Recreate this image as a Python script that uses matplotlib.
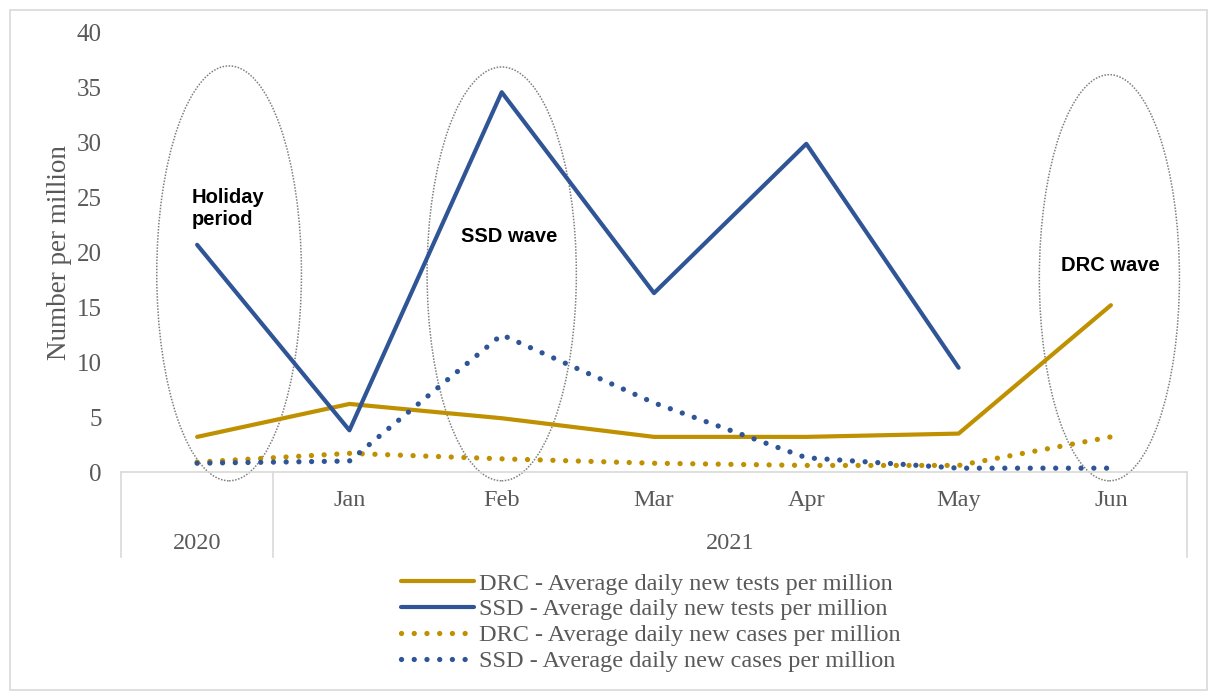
import matplotlib.pyplot as plt
from matplotlib.patches import Ellipse
import matplotlib.transforms as mtransforms

months = ['', 'Jan', 'Feb', 'Mar', 'Apr', 'May', 'Jun']
years = ['2020', '2021']
year_spans = [(0, 0), (1, 6)]

drc_tests = [3.2, 6.2, 4.9, 3.2, 3.2, 3.5, 15.2]
ssd_tests = [20.7, 3.8, 34.6, 16.3, 29.9, 9.5, None]
drc_cases = [0.9, 1.7, 1.2, 0.8, 0.6, 0.6, 3.2]
ssd_cases = [0.8, 1.0, 12.5, 6.3, 1.3, 0.35, 0.35]

labels = ['DRC - Average daily new tests per million',
          'SSD - Average daily new tests per million',
          'DRC - Average daily new cases per million',
          'SSD - Average daily new cases per million']

gold = '#BF9000'
blue = '#2F5597'
grey_txt = '#595959'
grid_grey = '#D9D9D9'

plt.rcParams['font.family'] = ['Liberation Serif', 'DejaVu Serif']

fig = plt.figure(figsize=(12.17, 6.97), dpi=100)
ax = fig.add_axes([0.0994, 0.3228, 0.876, 0.6299])

x = list(range(len(months)))
ssd_x = [i for i, v in zip(x, ssd_tests) if v is not None]
ssd_y = [v for v in ssd_tests if v is not None]

dot = (0, (0.01, 2.4))
h1, = ax.plot(x, drc_tests, color=gold, lw=3, solid_capstyle='round', zorder=3)
h2, = ax.plot(ssd_x, ssd_y, color=blue, lw=3, solid_capstyle='round', zorder=3)
h3, = ax.plot(x, drc_cases, color=gold, lw=3.8, ls=dot, dash_capstyle='round', zorder=3)
h4, = ax.plot(x, ssd_cases, color=blue, lw=3.8, ls=dot, dash_capstyle='round', zorder=3)

ax.set_xlim(-0.5, 6.5)
ax.set_ylim(0, 40)
ax.set_yticks(range(0, 41, 5))
ax.tick_params(axis='y', length=0, labelsize=18, labelcolor=grey_txt, pad=14)
ax.set_xticks([])
for s in ['top', 'right', 'left']:
    ax.spines[s].set_visible(False)
ax.spines['bottom'].set_color(grid_grey)
ax.spines['bottom'].set_linewidth(1.2)
ax.set_ylabel('Number per million', fontsize=19.5, color=grey_txt, labelpad=3)

# multi-level category axis
trans = mtransforms.blended_transform_factory(ax.transData, ax.transAxes)
bottom = -0.194
for xb in [-0.5, 0.5, 6.5]:
    ax.plot([xb, xb], [0, bottom], transform=trans, color=grid_grey, lw=1.2, clip_on=False)
for i, m in enumerate(months):
    ax.text(i, -0.064, m, transform=trans, ha='center', va='center', fontsize=17.5, color=grey_txt)
for yr, (a, b) in zip(years, year_spans):
    ax.text((a + b) / 2, -0.162, yr, transform=trans, ha='center', va='center', fontsize=17.5, color=grey_txt)

# highlight ellipses
ells = [(0.21, 18.1, 0.95, 37.8), (2.0, 18.05, 0.98, 37.7), (5.99, 17.7, 0.92, 37.0)]
for cx, cy, w, h in ells:
    ax.add_patch(Ellipse((cx, cy), w, h, fill=False, ec='#7F7F7F', lw=1.1, ls=(0, (1, 1)),
                         clip_on=False, zorder=2))

ann_font = dict(family=['Liberation Sans'], fontweight='bold', fontsize=14.5, color='black')
ax.text(-0.035, 24.0, 'Holiday\nperiod', ha='left', va='center', linespacing=1.2, **ann_font)
ax.text(1.73, 21.5, 'SSD wave', ha='left', va='center', **ann_font)
ax.text(5.67, 18.8, 'DRC wave', ha='left', va='center', **ann_font)

fig.legend([h1, h2, h3, h4], labels, loc='upper center', bbox_to_anchor=(0.535, 0.196),
           frameon=False, fontsize=17.5, labelcolor=grey_txt, handlelength=3.0,
           handletextpad=0.2, labelspacing=0.16, borderpad=0)

# outer chart border
fig.patches.append(plt.Rectangle((0.008, 0.01), 0.984, 0.976, transform=fig.transFigure,
                                 fill=False, ec=grid_grey, lw=1.2))

fig.savefig('out.png', dpi=100)
